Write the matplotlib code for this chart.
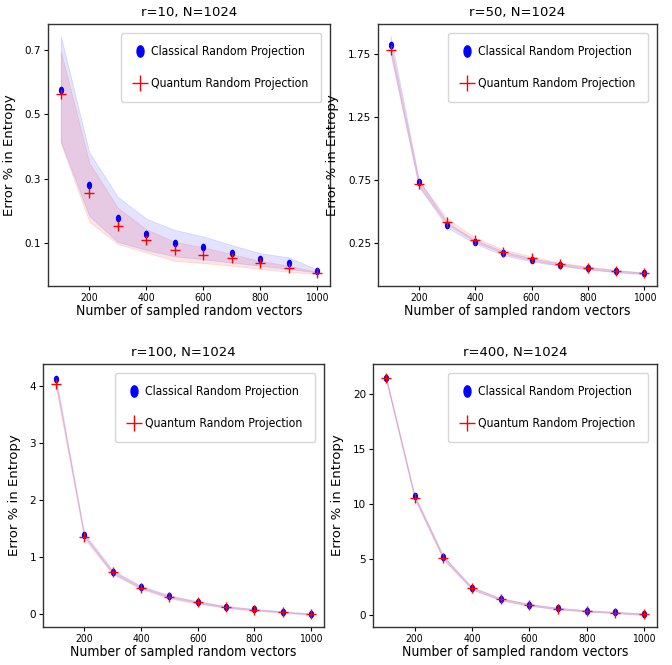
import numpy as np
import matplotlib
matplotlib.use("Agg")
import matplotlib.pyplot as plt
from matplotlib import font_manager as fm

# ---------------- data ----------------
x = [100, 200, 300, 400, 500, 600, 700, 800, 900, 1000]

titles = ["r=10, N=1024", "r=50, N=1024", "r=100, N=1024", "r=400, N=1024"]

# r = 10
c_mean_10 = [0.576, 0.281, 0.179, 0.128, 0.101, 0.087, 0.069, 0.051, 0.037, 0.014]
q_mean_10 = [0.563, 0.255, 0.153, 0.111, 0.079, 0.063, 0.054, 0.037, 0.024, 0.007]
c_lo_10 = [0.416, 0.184, 0.104, 0.079, 0.059, 0.050, 0.040, 0.030, 0.020, 0.009]
c_hi_10 = [0.743, 0.382, 0.244, 0.176, 0.141, 0.121, 0.094, 0.069, 0.056, 0.018]
q_lo_10 = [0.410, 0.166, 0.097, 0.071, 0.045, 0.038, 0.030, 0.020, 0.011, 0.004]
q_hi_10 = [0.695, 0.349, 0.210, 0.143, 0.104, 0.087, 0.066, 0.045, 0.030, 0.011]

# r = 50
c_mean_50 = [1.821, 0.729, 0.389, 0.255, 0.166, 0.110, 0.074, 0.045, 0.021, 0.005]
q_mean_50 = [1.776, 0.716, 0.416, 0.271, 0.179, 0.124, 0.079, 0.050, 0.026, 0.005]
c_lo_50 = [1.760, 0.700, 0.370, 0.240, 0.150, 0.100, 0.065, 0.037, 0.014, 0.000]
c_hi_50 = [1.890, 0.750, 0.410, 0.270, 0.180, 0.125, 0.085, 0.055, 0.030, 0.012]
q_lo_50 = [1.740, 0.690, 0.400, 0.255, 0.165, 0.110, 0.068, 0.040, 0.017, 0.000]
q_hi_50 = [1.820, 0.740, 0.440, 0.290, 0.195, 0.140, 0.090, 0.060, 0.034, 0.012]

# r = 100
c_mean_100 = [4.13, 1.40, 0.75, 0.48, 0.32, 0.216, 0.134, 0.088, 0.050, 0.010]
q_mean_100 = [4.04, 1.36, 0.736, 0.467, 0.30, 0.21, 0.128, 0.076, 0.040, 0.000]
c_lo_100 = [4.08, 1.37, 0.72, 0.46, 0.30, 0.20, 0.12, 0.075, 0.04, 0.00]
c_hi_100 = [4.18, 1.43, 0.78, 0.50, 0.34, 0.23, 0.15, 0.10, 0.06, 0.02]
q_lo_100 = [3.99, 1.33, 0.71, 0.45, 0.28, 0.19, 0.115, 0.065, 0.03, -0.01]
q_hi_100 = [4.09, 1.39, 0.76, 0.49, 0.32, 0.23, 0.145, 0.09, 0.05, 0.01]

# r = 400
c_mean_400 = [21.44, 10.70, 5.19, 2.40, 1.41, 0.90, 0.57, 0.36, 0.21, 0.06]
q_mean_400 = [21.40, 10.60, 5.15, 2.38, 1.40, 0.88, 0.55, 0.33, 0.19, 0.03]
c_lo_400 = [21.30, 10.55, 5.05, 2.30, 1.32, 0.82, 0.50, 0.30, 0.15, 0.00]
c_hi_400 = [21.60, 10.85, 5.33, 2.50, 1.50, 0.98, 0.64, 0.42, 0.27, 0.12]
q_lo_400 = [21.25, 10.45, 5.00, 2.28, 1.30, 0.80, 0.48, 0.27, 0.13, -0.03]
q_hi_400 = [21.55, 10.75, 5.30, 2.48, 1.50, 0.96, 0.62, 0.39, 0.25, 0.09]

yticks_list = [[0.1, 0.3, 0.5, 0.7], [0.25, 0.75, 1.25, 1.75], [0, 1, 2, 3, 4], [0, 5, 10, 15, 20]]
ytick_labels = [["0.1", "0.3", "0.5", "0.7"], ["0.25", "0.75", "1.25", "1.75"],
                ["0", "1", "2", "3", "4"], ["0", "5", "10", "15", "20"]]
xticks = [200, 400, 600, 800, 1000]

series = [
    (c_mean_10, q_mean_10, c_lo_10, c_hi_10, q_lo_10, q_hi_10),
    (c_mean_50, q_mean_50, c_lo_50, c_hi_50, q_lo_50, q_hi_50),
    (c_mean_100, q_mean_100, c_lo_100, c_hi_100, q_lo_100, q_hi_100),
    (c_mean_400, q_mean_400, c_lo_400, c_hi_400, q_lo_400, q_hi_400),
]

# ---------------- fonts ----------------
names = {(f.name, f.stretch) for f in fm.fontManager.ttflist}
all_names = {f.name for f in fm.fontManager.ttflist}
cond = dict(family="DejaVu Sans")
if ("DejaVu Sans", "condensed") in names:
    cond = dict(family="DejaVu Sans", stretch="condensed")
elif "Liberation Sans Narrow" in all_names:
    cond = dict(family="Liberation Sans Narrow")
elif "Roboto Condensed" in all_names:
    cond = dict(family="Roboto Condensed")
elif "Liberation Sans" in all_names:
    cond = dict(family="Liberation Sans")

fp_leg = fm.FontProperties(size=8.7, **cond)
fp_lab = fm.FontProperties(size=10.0, **cond)
fp_tick = fm.FontProperties(size=7.5, **cond)
fp_title = fm.FontProperties(size=9.5, family="DejaVu Sans")
fp_ylab = fm.FontProperties(size=9.5, family="DejaVu Sans")
fp_ytick = fm.FontProperties(size=7.5, family="DejaVu Sans")

# ellipse marker (tall)
t = np.linspace(0, 2 * np.pi, 40)
ell = list(zip(0.62 * np.cos(t), np.sin(t)))

fig = plt.figure(figsize=(6.72, 6.65), dpi=100)
W, H = 672, 665
boxes = [(48, 24, 330, 286), (378, 24, 657, 286), (43, 364, 324, 627), (373, 364, 657, 627)]

for i, (l, tp, r, b) in enumerate(boxes):
    ax = fig.add_axes([l / W, (H - b) / H, (r - l) / W, (b - tp) / H])
    cm, qm, clo, chi, qlo, qhi = series[i]
    ax.fill_between(x, clo, chi, color="blue", alpha=0.11, linewidth=0.6)
    ax.fill_between(x, qlo, qhi, color="red", alpha=0.11, linewidth=0.6)
    ax.plot(x, cm, linestyle="none", marker=ell, color="blue", markersize=4.5,
            label="Classical Random Projection")
    ax.plot(x, qm, linestyle="none", marker="+", color="red", markersize=6.5,
            markeredgewidth=1.0, label="Quantum Random Projection")
    ax.set_xticks(xticks)
    ax.set_xticklabels([str(v) for v in xticks], fontproperties=fp_tick)
    ax.set_yticks(yticks_list[i])
    ax.set_yticklabels(ytick_labels[i], fontproperties=fp_ytick)
    ax.tick_params(length=3, width=0.8, pad=2)
    ax.set_xlabel("Number of sampled random vectors", fontproperties=fp_lab, labelpad=1)
    ax.set_ylabel("Error % in Entropy", fontproperties=fp_ylab, labelpad=6)
    ax.set_title(titles[i], fontproperties=fp_title, pad=6)
    for s in ax.spines.values():
        s.set_color("#333333")
        s.set_linewidth(1.0)
    ax.legend(loc="upper right", prop=fp_leg, markerscale=1.8, handlelength=1.1,
              handletextpad=0.4, borderpad=1.0, labelspacing=1.55, borderaxespad=0.75)

fig.savefig("out.png", dpi=100)
